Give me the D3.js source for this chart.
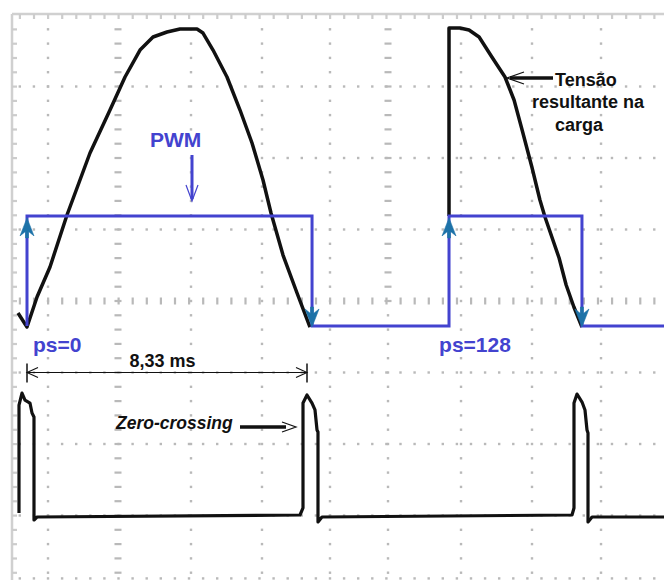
<!DOCTYPE html>
<html><head><meta charset="utf-8">
<script src="https://cdn.jsdelivr.net/npm/d3@7"></script>
<style>
html,body{margin:0;padding:0;background:#fff;}
svg{display:block;}
text{font-family:"Liberation Sans",Arial,sans-serif;font-weight:bold;}
</style>
</head><body>
<svg id="chart" width="664" height="580"></svg>
<script>
// ---- data: time in ms, amplitude in scope divisions ----
// load voltage, first half-cycle (ps = 0)
const load1T = [-0.268, 0, 0.298, 0.684, 1.190, 1.874, 2.469, 2.916, 3.362, 3.749, 4.165, 4.552, 5.058, 5.236, 5.534, 5.950, 6.337, 6.694, 7.021, 7.259, 7.616, 8.033, 8.419];
const load1V = [-0.168, -0.364, 0.056, 0.476, 1.203, 2.070, 2.671, 3.133, 3.510, 3.692, 3.762, 3.804, 3.804, 3.748, 3.510, 3.133, 2.671, 2.210, 1.692, 1.231, 0.643, 0.112, -0.364];
// load voltage, second half-cycle (ps = 128, chopped)
const load2T = [12.555, 12.555, 12.88, 13.15, 13.45, 13.83, 14.22, 14.49, 14.73, 15.02, 15.26, 15.41, 15.83, 16.04, 16.27, 16.51];
const load2V = [1.19, 3.818, 3.818, 3.79, 3.692, 3.413, 3.133, 2.811, 2.392, 1.874, 1.413, 1.175, 0.601, 0.224, -0.084, -0.364];
// PWM gate signal
const pwmT = [0, 0, 8.48, 8.48, 12.555, 12.555, 16.51, 16.51, 18.96];
const pwmV = [-0.35, 1.19, 1.19, -0.35, -0.35, 1.19, 1.19, -0.35, -0.35];
// zero-crossing detector output
const zcT = [-0.238, -0.238, -0.149, -0.06, 0.089, 0.149, 0.208, 0.208, 0.298, 8.122, 8.211, 8.211, 8.330, 8.479, 8.568, 8.628, 8.657, 8.657, 8.776, 16.214, 16.273, 16.273, 16.363, 16.512, 16.6, 16.66, 16.69, 16.69, 16.81, 18.96];
const zcV = [-2.965, -1.455, -1.287, -1.385, -1.427, -1.566, -1.622, -3.063, -3.021, -2.993, -2.895, -1.427, -1.315, -1.427, -1.524, -1.804, -1.832, -3.091, -3.021, -2.993, -2.895, -1.427, -1.301, -1.413, -1.524, -1.804, -1.846, -3.091, -3.021, -3.021];
// graticule
const gridColsT = [0.625, 2.707, 4.879, 6.991, 9.014, 10.74, 12.912, 15.024, 17.077];
const gridColStyle = ["dot", "dash", "dot", "dot", "dot", "dash", "dot", "dot", "dot"];
const gridRowsV = [3, 2, 1, 0, -1, -2, -3, -3.88];
// texts
const periodLabel = "8,33 ms";
const psLabels = ["ps=0", "ps=128"];
const psLabelT = [0.18, 12.26];
const noteLines = ["Tensão", "resultante na", "carga"];

// ---- scales ----
const W = 664, H = 580;
const x = d3.scaleLinear().domain([0, 8.33]).range([27, 307]);
const y = d3.scaleLinear().domain([-4, 4]).range([587, 15]);

const svg = d3.select("#chart");
const gridC = "#b9b9b9";
const blue = "#4343cf";
const teal = "#1d72a8";

// ---- graticule ----
const g = svg.append("g");
const stepX = (x(gridColsT[4]) - x(gridColsT[0])) / 20;
const stepY = (y(-4) - y(4)) / 40;
const rowXs = d3.range(x(gridColsT[0]) - 2 * stepX, W, stepX).filter(v => v > 14);
const colYs = d3.range(y(4) + stepY, H, stepY);

gridRowsV.forEach(v => {
  const yy = y(v);
  rowXs.forEach(xx => {
    if (v === 0) {
      g.append("rect").attr("x", xx - 1).attr("y", yy - 3.5).attr("width", 2.2).attr("height", 7).attr("fill", gridC);
    } else if (!(v === 2 && xx < 262)) {
      g.append("rect").attr("x", xx - 1.2).attr("y", yy - 1.2).attr("width", 2.4).attr("height", 2.4).attr("fill", gridC);
    }
  });
});
gridColsT.forEach((t, i) => {
  const xx = x(t);
  colYs.forEach(yy => {
    const dash = gridColStyle[i] === "dash" && (i === 1 || yy < 312);
    if (dash) {
      g.append("rect").attr("x", xx - 3.5).attr("y", yy - 1.1).attr("width", 7).attr("height", 2.2).attr("fill", gridC);
    } else {
      g.append("rect").attr("x", xx - 1.2).attr("y", yy - 1.2).attr("width", 2.4).attr("height", 2.4).attr("fill", gridC);
    }
  });
});
// frame (top & left) with ticks
const frameY = y(4) - 1, frameX = 12;
g.append("line").attr("x1", frameX).attr("x2", W).attr("y1", frameY).attr("y2", frameY).attr("stroke", "#d0d0d0").attr("stroke-width", 2.5);
g.append("line").attr("x1", frameX).attr("x2", frameX).attr("y1", frameY).attr("y2", H).attr("stroke", "#d0d0d0").attr("stroke-width", 2.5);
rowXs.forEach(xx => g.append("rect").attr("x", xx - 1).attr("y", frameY).attr("width", 2.2).attr("height", 5).attr("fill", "#cccccc"));
colYs.forEach(yy => g.append("rect").attr("x", frameX).attr("y", yy - 1).attr("width", 5).attr("height", 2.2).attr("fill", "#cccccc"));

// ---- traces ----
const line = d3.line().x(d => x(d[0])).y(d => y(d[1]));
const zip = (a, b) => a.map((v, i) => [v, b[i]]);

[[load1T, load1V], [load2T, load2V]].forEach(([tt, vv]) => {
  svg.append("path").attr("d", line(zip(tt, vv)))
    .attr("fill", "none").attr("stroke", "#111").attr("stroke-width", 3.5).attr("stroke-linejoin", "round");
});
svg.append("path").attr("d", line(zip(zcT, zcV)))
  .attr("fill", "none").attr("stroke", "#111").attr("stroke-width", 3.2).attr("stroke-linejoin", "round");

const pwmPts = zip(pwmT, pwmV);
svg.append("path").attr("d", line(pwmPts))
  .attr("fill", "none").attr("stroke", blue).attr("stroke-width", 3);

// arrowheads on PWM edges (skip the first falling edge at the left border)
const headPath = "M0,0 L7,18 L1.5,13.5 L1.5,20 L-1.5,20 L-1.5,13.5 L-7,18 Z";
for (let i = 1; i < pwmPts.length; i++) {
  const [t0, v0] = pwmPts[i - 1], [t1, v1] = pwmPts[i];
  if (t0 === t1 && v0 !== v1) {
    const up = v1 > v0;
    const tipY = up ? y(v1) + 2 : y(v1) + 1;
    svg.append("path").attr("d", headPath)
      .attr("transform", `translate(${x(t1)},${tipY}) rotate(${up ? 0 : 180})`)
      .attr("fill", teal).attr("stroke", teal).attr("stroke-width", 0.6);
  }
}

// open arrowhead helper
function openHead(px, py, angleDeg, len, half, color, sw) {
  svg.append("path").attr("d", `M${-len},${-half} L0,0 L${-len},${half}`)
    .attr("transform", `translate(${px},${py}) rotate(${angleDeg})`)
    .attr("fill", "none").attr("stroke", color).attr("stroke-width", sw || 1.2);
}

// ---- period dimension ----
const dimY = y(-1);
svg.append("line").attr("x1", x(0)).attr("x2", x(8.33)).attr("y1", dimY).attr("y2", dimY).attr("stroke", "#111").attr("stroke-width", 1.2);
[0, 8.33].forEach(t => svg.append("line").attr("x1", x(t)).attr("x2", x(t)).attr("y1", dimY - 9).attr("y2", dimY + 10).attr("stroke", "#111").attr("stroke-width", 1.5));
openHead(x(0), dimY, 180, 11, 5, "#111", 1.1);
openHead(x(8.33), dimY, 0, 11, 5, "#111", 1.1);
svg.append("text").attr("x", x(4.03)).attr("y", dimY - 6).attr("text-anchor", "middle")
  .attr("font-size", 18).attr("fill", "#111").text(periodLabel);

// ---- ps labels ----
psLabels.forEach((s, i) => svg.append("text").attr("x", x(psLabelT[i])).attr("y", 352)
  .attr("font-size", 21).attr("fill", blue).text(s));

// ---- PWM label and arrow ----
svg.append("text").attr("x", 150).attr("y", 147).attr("font-size", 21).attr("fill", blue).text("PWM");
svg.append("line").attr("x1", 192).attr("x2", 192).attr("y1", 155).attr("y2", 199).attr("stroke", blue).attr("stroke-width", 3);
openHead(192, 201, 90, 16, 6, blue, 1.2);

// ---- zero-crossing label and arrow ----
svg.append("text").attr("x", 116).attr("y", 429).attr("font-size", 17.5).attr("font-style", "italic")
  .attr("fill", "#111").text("Zero-crossing");
svg.append("line").attr("x1", 240).attr("x2", 286).attr("y1", 427).attr("y2", 427).attr("stroke", "#111").attr("stroke-width", 3.5);
openHead(296, 427, 0, 14, 5, "#111", 1.2);

// ---- load voltage note ----
const noteX = [555, 532, 555], noteY = [86, 108, 131];
noteLines.forEach((s, i) => svg.append("text").attr("x", noteX[i]).attr("y", noteY[i])
  .attr("font-size", 18).attr("fill", "#111").text(s));
svg.append("line").attr("x1", 553).attr("x2", 510).attr("y1", 78).attr("y2", 78).attr("stroke", "#111").attr("stroke-width", 3.5);
openHead(507, 78, 180, 17, 6, "#111", 1.2);
</script>
</body></html>
